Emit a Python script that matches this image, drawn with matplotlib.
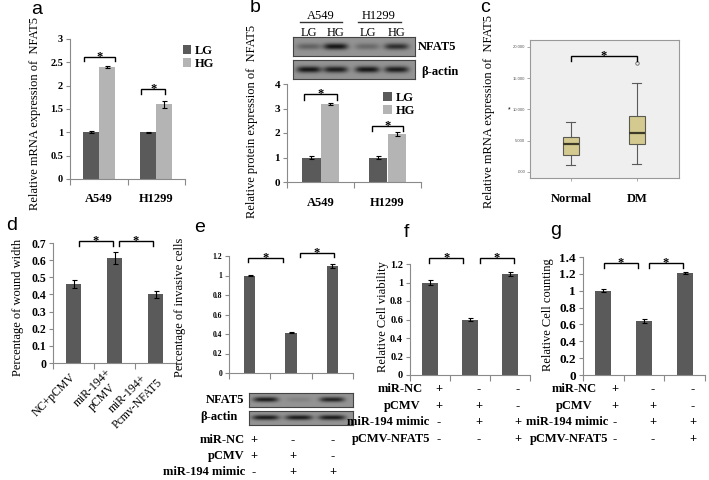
import numpy as np
import matplotlib
matplotlib.use('Agg')
import matplotlib.pyplot as plt
from matplotlib.ticker import FuncFormatter

# ---------------- data ----------------
ab_groups = ['A549', 'H1299']
a_lg = [1.0, 1.0]
a_lg_err = [0.02, 0.01]
a_hg = [2.4, 1.6]
a_hg_err = [0.03, 0.07]

b_lg = [1.0, 1.0]
b_lg_err = [0.05, 0.06]
b_hg = [3.18, 1.95]
b_hg_err = [0.03, 0.08]
b_lanes = ['LG', 'HG', 'LG', 'HG']
b_blot_nfat5 = [0.35, 0.9, 0.3, 0.72]
b_blot_actin = [0.9, 0.85, 0.9, 0.85]

c_groups = ['Normal', 'DM']
c_normal = dict(whislo=1.1, q1=2.7, med=4.5, q3=5.6, whishi=8.0)
c_dm = dict(whislo=1.3, q1=4.5, med=6.2, q3=9.0, whishi=14.2)
c_dm_outliers = [17.4]
c_yticks = [0, 5, 10, 15, 20]
c_yticklabels = ['.000', '5.000', '10.000', '15.000', '20.000']

d_labels = ['NC+pCMV', 'miR-194+\npCMV', 'miR-194+\nPcmv-NFAT5']
d_vals = [0.46, 0.615, 0.40]
d_err = [0.025, 0.035, 0.02]

e_vals = [1.0, 0.415, 1.10]
e_err = [0.01, 0.007, 0.02]
e_blot_nfat5 = [0.85, 0.12, 0.8]
e_blot_actin = [0.85, 0.85, 0.85]
e_rows = ['miR-NC', 'pCMV', 'miR-194 mimic']
e_signs = [['+', '-', '-'], ['+', '+', '-'], ['-', '+', '+']]

f_vals = [1.0, 0.6, 1.09]
f_err = [0.03, 0.02, 0.02]
g_vals = [1.0, 0.64, 1.21]
g_err = [0.015, 0.02, 0.015]
fg_rows = ['miR-NC', 'pCMV', 'miR-194 mimic', 'pCMV-NFAT5']
fg_signs = [['+', '-', '-'], ['+', '+', '-'], ['-', '+', '+'], ['-', '-', '+']]

# ---------------- helpers ----------------
SERIF = 'Liberation Serif'
SANS = 'Liberation Sans'
DARK = '#5a5a5a'
LIGHT = '#b4b4b4'
W, H = 709, 480
fig = plt.figure(figsize=(7.09, 4.8), dpi=100)


def px_axes(l, t, r, b):
    return fig.add_axes([l / W, 1 - b / H, (r - l) / W, (b - t) / H])


def ftext(x, y, s, **kw):
    kw.setdefault('family', SERIF)
    return fig.text(x / W, 1 - y / H, s, **kw)


def fmt(v, pos):
    return f'{v:g}'


def excel_axes(ax, ymax, ystep, fs, ncat):
    for s in ['top', 'right']:
        ax.spines[s].set_visible(False)
    for s in ['left', 'bottom']:
        ax.spines[s].set_color('#8a8a8a')
        ax.spines[s].set_linewidth(0.8)
    ax.set_ylim(0, ymax)
    ax.set_yticks(np.arange(0, ymax + 1e-9, ystep))
    ax.yaxis.set_major_formatter(FuncFormatter(fmt))
    ax.tick_params(axis='y', direction='out', length=3, color='#8a8a8a',
                   labelsize=fs, pad=2, width=0.8)
    for t in ax.get_yticklabels():
        t.set_family(SERIF)
        t.set_fontweight('bold')
    ax.set_xlim(-0.5, ncat - 0.5)
    ax.set_xticks(np.arange(-0.5, ncat, 1.0), minor=True)
    ax.tick_params(axis='x', which='minor', direction='out', length=4,
                   color='#8a8a8a', width=0.8)
    ax.tick_params(axis='x', which='major', length=0)


def bracket(ax, x0, x1, y, h, fs=9):
    ax.plot([x0, x0, x1, x1], [y - h, y, y, y - h], color='black', lw=1.0,
            clip_on=False, solid_joinstyle='miter')
    ax.text((x0 + x1) / 2, y, '*', ha='center', va='center', fontsize=fs,
            fontweight='bold', family=SERIF, clip_on=False)


def blot(l, t, r, b, lanes, vals, bg=0.58, hw=0.10):
    ax = px_axes(l, t, r, b)
    x = np.linspace(0, 1, 300)
    y = np.linspace(0, 1, 40)
    img = np.full((40, 300), bg)
    for c, v in zip(lanes, vals):
        prof = np.exp(-((x[None, :] - c) / hw) ** 4) * np.exp(-((y[:, None] - 0.5) / 0.17) ** 2)
        img = img - v * 0.55 * prof
    ax.imshow(img, cmap='gray', vmin=0, vmax=1, aspect='auto', extent=[0, 1, 0, 1],
              interpolation='bilinear')
    ax.set_xticks([])
    ax.set_yticks([])
    for s in ax.spines.values():
        s.set_color('#444444')
        s.set_linewidth(0.8)
    return ax


ebar = dict(ecolor='black', elinewidth=0.8, capsize=1.8, capthick=0.8)

# ---------------- panel a ----------------
axa = px_axes(70, 39, 185, 179)
excel_axes(axa, 3, 0.5, 7.5, 2)
xa = np.arange(len(ab_groups))
bw = 0.28
axa.bar(xa - bw / 2, a_lg, bw, yerr=a_lg_err, color=DARK, label='LG', error_kw=ebar)
axa.bar(xa + bw / 2, a_hg, bw, yerr=a_hg_err, color=LIGHT, label='HG', error_kw=ebar)
axa.set_xticks(xa)
axa.set_xticklabels(ab_groups, family=SERIF, fontweight='bold', fontsize=9)
axa.tick_params(axis='x', which='major', pad=10)
bracket(axa, -0.26, 0.28, 2.62, 0.09)
bracket(axa, 0.74, 1.16, 1.92, 0.1)
axa.legend(loc='upper left', bbox_to_anchor=(0.98, 0.96), frameon=False,
           prop={'family': SERIF, 'weight': 'bold', 'size': 9},
           handlelength=0.7, handleheight=0.7, handletextpad=0.3,
           labelspacing=0.1, borderpad=0, borderaxespad=0)
ftext(35, 113, 'Relative mRNA expression of  NFAT5', rotation=90, ha='center',
      va='center', fontsize=9)
ftext(37, 9, 'a', family=SANS, fontsize=14, ha='center', va='center')

# ---------------- panel b ----------------
axb = px_axes(287, 84, 421, 182)
excel_axes(axb, 4, 1, 8, 2)
bwb = 0.27
axb.bar(xa - bwb / 2, b_lg, bwb, yerr=b_lg_err, color=DARK, label='LG', error_kw=ebar)
axb.bar(xa + bwb / 2, b_hg, bwb, yerr=b_hg_err, color=LIGHT, label='HG', error_kw=ebar)
axb.set_xticks(xa)
axb.set_xticklabels(ab_groups, family=SERIF, fontweight='bold', fontsize=9)
axb.tick_params(axis='x', which='major', pad=11)
bracket(axb, -0.25, 0.25, 3.58, 0.22)
bracket(axb, 0.77, 1.23, 2.29, 0.2)
axb.legend(loc='upper left', bbox_to_anchor=(0.72, 0.92), frameon=False,
           prop={'family': SERIF, 'weight': 'bold', 'size': 9},
           handlelength=0.7, handleheight=0.7, handletextpad=0.3,
           labelspacing=0.1, borderpad=0, borderaxespad=0)
ftext(252, 121, 'Relative protein expression of  NFAT5', rotation=90, ha='center',
      va='center', fontsize=9)
ftext(255, 8, 'b', family=SANS, fontsize=14, ha='center', va='center')

lane_pos = [0.13, 0.35, 0.61, 0.85]
blot(293, 37, 415, 56, lane_pos, b_blot_nfat5)
blot(293, 60, 415, 79, lane_pos, b_blot_actin)
for lx, lab in zip([309, 336, 368, 397], b_lanes):
    ftext(lx, 33, lab, ha='center', va='center', fontsize=9)
for cx, x0, x1, lab in [(321, 300, 342, 'A549'), (379, 358, 401, 'H1299')]:
    ftext(cx, 16, lab, ha='center', va='center', fontsize=9)
    fig.add_artist(plt.Line2D([x0 / W, x1 / W], [1 - 22 / H, 1 - 22 / H],
                              color='#333333', lw=1.0))
ftext(418, 47, 'NFAT5', ha='left', va='center', fontsize=9, fontweight='bold')
ftext(421, 72, 'β-actin', ha='left', va='center', fontsize=9, fontweight='bold')

# ---------------- panel c ----------------
axc = px_axes(530, 40, 679, 178)
axc.set_facecolor('#efefef')
stats = [dict(c_normal, fliers=[], label=c_groups[0]),
         dict(c_dm, fliers=c_dm_outliers, label=c_groups[1])]
axc.bxp(stats, positions=[1, 2], widths=0.25, patch_artist=True,
        boxprops=dict(facecolor='#d4ca90', edgecolor='#5a5a50', linewidth=0.8),
        medianprops=dict(color='#3d3a28', linewidth=1.6),
        whiskerprops=dict(color='#5a5a5a', linewidth=0.8),
        capprops=dict(color='#5a5a5a', linewidth=0.8),
        flierprops=dict(marker='o', markersize=2.5, markerfacecolor='none',
                        markeredgecolor='#666666', markeredgewidth=0.6),
        capwidths=0.14)
axc.set_xlim(0.38, 2.64)
axc.set_ylim(-0.96, 21.1)
axc.set_yticks(c_yticks)
axc.set_yticklabels(c_yticklabels, family=SANS, fontsize=3.0, color='#555555')
axc.tick_params(axis='y', length=2, width=0.5, color='#888888', pad=1.5)
axc.set_xticks([1, 2])
axc.set_xticklabels(c_groups, family=SERIF, fontweight='bold', fontsize=9)
axc.tick_params(axis='x', length=2, width=0.5, color='#888888', pad=9)
for s in axc.spines.values():
    s.set_color('#999999')
    s.set_linewidth(0.8)
bracket(axc, 1, 2, 18.6, 0.9)
ftext(509, 110, '*', family=SANS, fontsize=5, ha='center', va='center')
ftext(489, 112, 'Relative mRNA expression of  NFAT5', rotation=90, ha='center',
      va='center', fontsize=9)
ftext(485, 8, 'c', family=SANS, fontsize=14, ha='center', va='center')

# ---------------- panel d ----------------
axd = px_axes(53, 243, 176, 363)
excel_axes(axd, 0.7, 0.1, 8.5, 3)
xd = np.arange(len(d_vals))
axd.bar(xd, d_vals, 0.39, yerr=d_err, color=DARK, error_kw=ebar)
axd.set_xticks(xd)
axd.set_xticklabels(d_labels, family=SERIF, fontsize=8.5, rotation=45, ha='right',
                    va='center', rotation_mode='anchor', multialignment='center')
axd.tick_params(axis='x', which='major', pad=9)
bracket(axd, 0.13, 0.96, 0.71, 0.025)
bracket(axd, 1.11, 1.94, 0.71, 0.025)
ftext(18, 307, 'Percentage of wound width', rotation=90, ha='center', va='center',
      fontsize=9)
ftext(12, 225, 'd', family=SANS, fontsize=14, ha='center', va='center')

# ---------------- panel e ----------------
axe = px_axes(229, 256, 353, 373)
excel_axes(axe, 1.2, 0.2, 5.5, 3)
xe = np.arange(len(e_vals))
axe.bar(xe, e_vals, 0.27, yerr=e_err, color=DARK, error_kw=ebar)
axe.set_xticks(xe)
axe.set_xticklabels([])
bracket(axe, -0.04, 0.81, 1.18, 0.04)
bracket(axe, 1.22, 2.04, 1.23, 0.04)
ftext(180, 307, 'Percentage of invasive cells', rotation=90, ha='center',
      va='center', fontsize=9)
ftext(200, 228, 'e', family=SANS, fontsize=14, ha='center', va='center')
e_lane = [0.16, 0.48, 0.8]
blot(249, 393, 353, 407, e_lane, e_blot_nfat5, hw=0.12)
blot(249, 411, 353, 425, e_lane, e_blot_actin, hw=0.13)
ftext(244, 400, 'NFAT5', ha='right', va='center', fontsize=9, fontweight='bold')
ftext(200, 417, 'β-actin', ha='left', va='center', fontsize=9, fontweight='bold')
for r, (lab, row) in enumerate(zip(e_rows, e_signs)):
    yy = 440 + r * 16
    ftext(245, yy, lab, ha='right', va='center', fontsize=9, fontweight='bold')
    for sx, s in zip([254, 293, 333], row):
        ftext(sx, yy, s, ha='center', va='center', fontsize=9, fontweight='bold')

# ---------------- panel f ----------------
axf = px_axes(410, 264, 530, 375)
excel_axes(axf, 1.2, 0.2, 7.5, 3)
xf = np.arange(len(f_vals))
axf.bar(xf, f_vals, 0.38, yerr=f_err, color=DARK, error_kw=ebar)
axf.set_xticks(xf)
axf.set_xticklabels([])
bracket(axf, -0.02, 0.83, 1.265, 0.05)
bracket(axf, 1.25, 2.1, 1.265, 0.05)
ftext(383, 317, 'Relative Cell viability', rotation=90, ha='center', va='center',
      fontsize=9)
ftext(406, 232, 'f', family=SANS, fontsize=14, ha='center', va='center')

# ---------------- panel g ----------------
axg = px_axes(583, 257, 705, 375)
excel_axes(axg, 1.4, 0.2, 9.5, 3)
xg = np.arange(len(g_vals))
axg.bar(xg, g_vals, 0.39, yerr=g_err, color=DARK, error_kw=ebar)
axg.set_xticks(xg)
axg.set_xticklabels([])
bracket(axg, 0.02, 0.85, 1.33, 0.06)
bracket(axg, 1.12, 1.96, 1.33, 0.06)
ftext(548, 315, 'Relative Cell counting', rotation=90, ha='center', va='center',
      fontsize=9)
ftext(556, 231, 'g', family=SANS, fontsize=14, ha='center', va='center')

# ---------------- f/g tables ----------------
f_right = [423, 420, 429, 430]
g_right = [597, 593, 608, 608]
for r, (lab, row) in enumerate(zip(fg_rows, fg_signs)):
    yy = 389 + r * 16.7
    ftext(f_right[r], yy, lab, ha='right', va='center', fontsize=9, fontweight='bold')
    ftext(g_right[r], yy, lab, ha='right', va='center', fontsize=9, fontweight='bold')
    for sx, s in zip([439, 479, 518], row):
        ftext(sx, yy, s, ha='center', va='center', fontsize=9, fontweight='bold')
    for sx, s in zip([615, 653, 693], row):
        ftext(sx, yy, s, ha='center', va='center', fontsize=9, fontweight='bold')

fig.savefig('out.png', dpi=100)
